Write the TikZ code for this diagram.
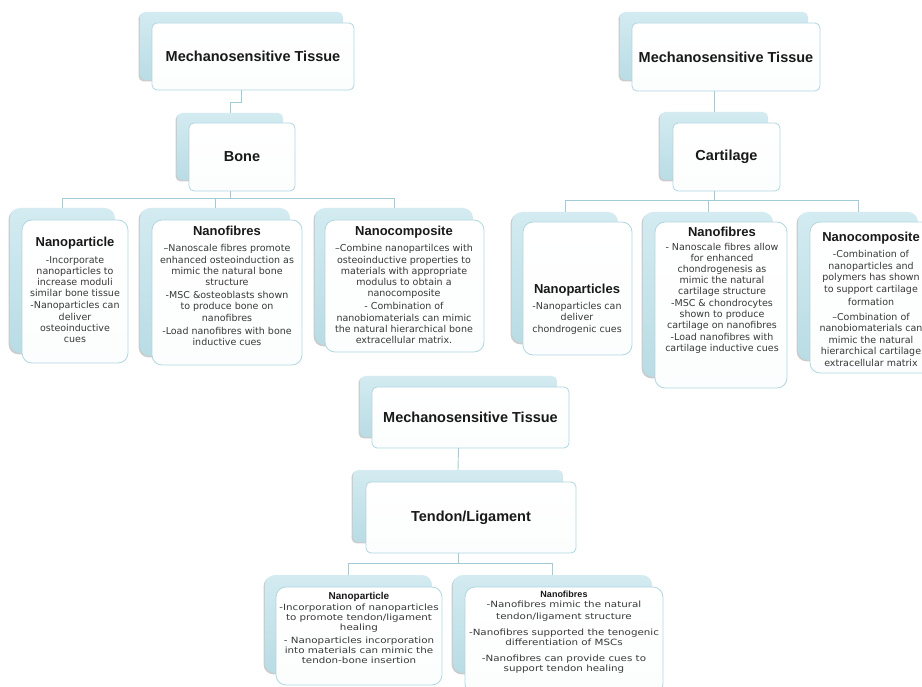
\documentclass[tikz,border=0pt]{standalone}
\usepackage{fontspec}
\setmainfont{Liberation Sans}
\newfontfamily\bodyfont{DejaVu Sans}
\newfontfamily\bodywide[FakeStretch=1.2]{DejaVu Sans}
\usetikzlibrary{shadows}
\definecolor{backtop}{HTML}{D3EBF1}
\definecolor{backbot}{HTML}{B9DCE5}
\definecolor{frontline}{HTML}{AFD7E0}
\definecolor{connline}{HTML}{9FCCD7}
\definecolor{bodytext}{HTML}{383838}
\newcommand\twobox[3]{% name ; radius ; text
  \node[backbox, rounded corners=#2,
        minimum width={\bxb-\bxa}, minimum height={\byb-\bya}]
        (#1b) at ({(\bxa+\bxb)/2},{(\bya+\byb)/2}) {};
  \node[frontbox, rounded corners=#2,
        minimum width={\fxb-\fxa}, minimum height={\fyb-\fya}]
        (#1f) at ({(\fxa+\fxb)/2},{(\fya+\fyb)/2}) {#3};
}
\newcommand\setgeo[8]{\def\fxa{#1}\def\fya{#2}\def\fxb{#3}\def\fyb{#4}\def\bxa{#5}\def\bya{#6}\def\bxb{#7}\def\byb{#8}}
\begin{document}
\begin{tikzpicture}[x=1pt,y=-1pt,
  backbox/.style={rectangle, inner sep=0pt, outer sep=0pt, draw=none,
     top color=backtop, bottom color=backbot,
     drop shadow={shadow xshift=-1.4pt, shadow yshift=-1.4pt, opacity=0.2, fill=black}},
  frontbox/.style={rectangle, inner sep=0pt, outer sep=0pt, draw=frontline, line width=0.8pt,
     top color=white, bottom color=white!96!frontline,
     font=\fontsize{14.5}{16}\selectfont\bfseries, text=black!90},
  conn/.style={draw=connline, line width=0.9pt},
  ctext/.style={align=center, inner sep=0pt, text=bodytext, font=\bodyfont\fontsize{9.5}{11.2}\selectfont},
  btext/.style={align=center, inner sep=0pt, text=bodytext, font=\bodywide\fontsize{8.6}{10}\selectfont},
]
\useasboundingbox (0,0) rectangle (922,687);
\clip (0,0) rectangle (922,687);
\newcommand\ttl[1]{{\fontsize{13}{15}\selectfont\rmfamily\bfseries\color{black!90}#1}}

% ---------- Bone ----------
\setgeo{152}{23}{354}{90}{140}{12}{343}{80}
\twobox{mta}{5}{Mechanosensitive Tissue}
\setgeo{189}{123}{295}{191}{177}{113}{283}{180}
\twobox{bone}{5}{Bone}
\setgeo{22}{220}{128}{363}{10}{208}{115}{353}
\twobox{npa}{10}{}
\setgeo{152}{220}{302}{365}{140}{208}{290}{356}
\twobox{nfa}{10}{}
\setgeo{325}{220}{484}{352}{315}{208}{473}{345}
\twobox{nca}{10}{}

\node[ctext] (npat) at (75,290) {\ttl{Nanoparticle}\\[5pt]
  -Incorporate\\ nanoparticles to\\ increase moduli\\ similar bone tissue\\[1pt]
  -Nanoparticles can\\ deliver\\ osteoinductive\\ cues};
\node[ctext] (nfat) at (227,286) {\ttl{Nanofibres}\\[5pt]
  \textendash Nanoscale fibres promote\\ enhanced osteoinduction as\\ mimic the natural bone\\ structure\\[2pt]
  -MSC \&osteoblasts shown\\ to produce bone on\\ nanofibres\\[2pt]
  -Load nanofibres with bone\\ inductive cues};
\node[ctext] (ncat) at (404,285) {\ttl{Nanocomposite}\\[5pt]
  \textendash Combine nanopartilces with\\ osteoinductive properties to\\ materials with appropriate\\ modulus to obtain a\\ nanocomposite\\[2pt]
  - Combination of\\ nanobiomaterials can mimic\\ the natural hierarchical bone\\ extracellular matrix.};

\coordinate (ha) at (0,198);
\draw[conn] (mtaf.south -| mtab.south) -- ++(0,12) -| (boneb.north);
\draw[conn] (bonef.south -| boneb.south) -- (boneb.south |- ha);
\draw[conn] (npab.north |- ha) -- (ncab.north |- ha);
\draw[conn] (npab.north |- ha) -- (npab.north);
\draw[conn] (nfab.north |- ha) -- (nfab.north);
\draw[conn] (ncab.north |- ha) -- (ncab.north);

% ---------- Cartilage ----------
\setgeo{632}{23}{820}{91}{620}{12}{808}{80}
\twobox{mtb}{5}{Mechanosensitive Tissue}
\setgeo{673}{123}{780}{191}{660}{112}{768}{180}
\twobox{cart}{5}{Cartilage}
\setgeo{523}{222}{632}{355}{512}{212}{618}{343}
\twobox{npb}{10}{}
\setgeo{655}{222}{787}{388}{643}{212}{773}{377}
\twobox{nfb}{10}{}
\setgeo{810}{222}{934}{373}{798}{212}{918}{360}
\twobox{ncb}{10}{}

\node[ctext] (npbt) at (577,309) {\ttl{Nanoparticles}\\[5pt]
  -Nanoparticles can\\ deliver\\ chondrogenic cues};
\node[ctext, font=\bodyfont\fontsize{9.5}{11}\selectfont] (nfbt) at (722,290) {\ttl{Nanofibres}\\[3pt]
  - Nanoscale fibres allow\\ for enhanced\\ chondrogenesis as\\ mimic the natural\\ cartilage structure\\[1pt]
  -MSC \& chondrocytes\\ shown to produce\\ cartilage on nanofibres\\[1pt]
  -Load nanofibres with\\ cartilage inductive cues};
\node[ctext, font=\bodyfont\fontsize{9.5}{11.5}\selectfont] (ncbt) at (871,299) {\ttl{Nanocomposite}\\[5pt]
  -Combination of\\ nanoparticles and\\ polymers has shown\\ to support cartilage\\[2pt] formation\\[3pt]
  \textendash Combination of\\ nanobiomaterials can\\ mimic the natural\\ hierarchical cartilage\\ extracellular matrix};

\coordinate (hb) at (0,200);
\draw[conn] (mtbf.south -| mtbb.south) -- (cartb.north);
\draw[conn] (cartf.south -| cartb.south) -- (cartb.south |- hb);
\draw[conn] (npbb.north |- hb) -- (ncbb.north |- hb);
\draw[conn] (npbb.north |- hb) -- (npbb.north);
\draw[conn] (nfbb.north |- hb) -- (nfbb.north);
\draw[conn] (ncbb.north |- hb) -- (ncbb.north);

% ---------- Tendon/Ligament ----------
\setgeo{372}{387}{569}{448}{360}{376}{557}{437}
\twobox{mtc}{5}{Mechanosensitive Tissue}
\setgeo{366}{482}{576}{553}{353}{470}{563}{542}
\twobox{ten}{5}{Tendon/Ligament}
\setgeo{276}{587}{442}{685}{265}{575}{432}{673}
\twobox{npc}{10}{}
\setgeo{465}{587}{663}{694}{453}{575}{652}{673}
\twobox{nfc}{10}{}

\node[btext] (npct) at (359,628) {{\fontsize{10}{12}\selectfont\rmfamily\bfseries\color{black!90}Nanoparticle}\\[1pt]
  -Incorporation of nanoparticles\\ to promote tendon/ligament\\ healing\\[3pt]
  - Nanoparticles incorporation\\ into materials can mimic the\\ tendon-bone insertion};
\node[btext] (nfct) at (564,632) {{\fontsize{9}{10}\selectfont\rmfamily\bfseries\color{black!90}Nanofibres}\\
  -Nanofibres mimic the natural\\[2pt] tendon/ligament structure\\[6pt]
  -Nanofibres supported the tenogenic\\ differentiation of MSCs\\[6pt]
  -Nanofibres can provide cues to\\ support tendon healing};

\coordinate (hc) at (0,563);
\draw[conn] (mtcf.south -| mtcb.south) -- (tenb.north);
\draw[conn] (tenf.south -| tenb.south) -- (tenb.south |- hc);
\draw[conn] (npcb.north |- hc) -- (nfcb.north |- hc);
\draw[conn] (npcb.north |- hc) -- (npcb.north);
\draw[conn] (nfcb.north |- hc) -- (nfcb.north);
\end{tikzpicture}
\end{document}
